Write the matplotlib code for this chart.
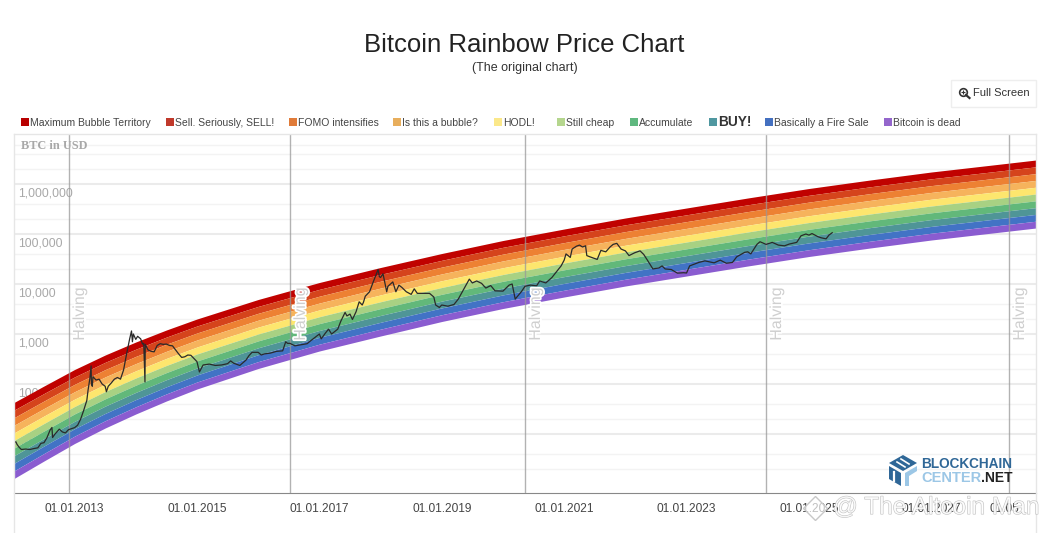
import numpy as np
import matplotlib
matplotlib.use('Agg')
import matplotlib.pyplot as plt
import matplotlib.patheffects as pe
from matplotlib.patches import Rectangle, Polygon
from matplotlib.lines import Line2D

plt.rcParams['font.family'] = ['Liberation Sans', 'DejaVu Sans']

W, H = 1049, 533

# band edges, log10(USD), read at these years
edge_years = [2012.01, 2012.5, 2013, 2013.5, 2014, 2014.5, 2015, 2016, 2017, 2018, 2019, 2020, 2021, 2022, 2023,
              2024, 2025, 2026, 2027, 2028, 2028.71]
edge0 = [1.63, 1.96, 2.29, 2.58, 2.84, 3.08, 3.30, 3.69, 4.03, 4.33, 4.61, 4.87, 5.10, 5.32, 5.52,
         5.72, 5.91, 6.08, 6.24, 6.38, 6.48]
edge1 = [1.478, 1.81, 2.142, 2.434, 2.696, 2.938, 3.16, 3.552, 3.893, 4.193, 4.474, 4.734, 4.964, 5.184, 5.384,
         5.584, 5.774, 5.944, 6.104, 6.244, 6.344]
edge2 = [1.326, 1.66, 1.994, 2.288, 2.552, 2.796, 3.02, 3.414, 3.756, 4.056, 4.338, 4.598, 4.828, 5.048, 5.248,
         5.448, 5.638, 5.808, 5.968, 6.108, 6.208]
edge3 = [1.174, 1.51, 1.846, 2.142, 2.408, 2.654, 2.88, 3.276, 3.619, 3.919, 4.202, 4.462, 4.692, 4.912, 5.112,
         5.312, 5.502, 5.672, 5.832, 5.972, 6.072]
edge4 = [1.022, 1.36, 1.698, 1.996, 2.264, 2.512, 2.74, 3.138, 3.482, 3.782, 4.066, 4.326, 4.556, 4.776, 4.976,
         5.176, 5.366, 5.536, 5.696, 5.836, 5.936]
edge5 = [0.87, 1.21, 1.55, 1.85, 2.12, 2.37, 2.60, 3.00, 3.345, 3.645, 3.93, 4.19, 4.42, 4.64, 4.84,
         5.04, 5.23, 5.40, 5.56, 5.70, 5.80]
edge6 = [0.718, 1.06, 1.402, 1.704, 1.976, 2.228, 2.46, 2.862, 3.208, 3.508, 3.794, 4.054, 4.284, 4.504, 4.704,
         4.904, 5.094, 5.264, 5.424, 5.564, 5.664]
edge7 = [0.566, 0.91, 1.254, 1.558, 1.832, 2.086, 2.32, 2.724, 3.071, 3.371, 3.658, 3.918, 4.148, 4.368, 4.568,
         4.768, 4.958, 5.128, 5.288, 5.428, 5.528]
edge8 = [0.414, 0.76, 1.106, 1.412, 1.688, 1.944, 2.18, 2.586, 2.934, 3.234, 3.522, 3.782, 4.012, 4.232, 4.432,
         4.632, 4.822, 4.992, 5.152, 5.292, 5.392]
edge9 = [0.262, 0.61, 0.958, 1.266, 1.544, 1.802, 2.04, 2.448, 2.797, 3.097, 3.386, 3.646, 3.876, 4.096, 4.296,
         4.496, 4.686, 4.856, 5.016, 5.156, 5.256]
edge10 = [0.11, 0.46, 0.81, 1.12, 1.40, 1.66, 1.90, 2.31, 2.66, 2.96, 3.25, 3.51, 3.74, 3.96, 4.16,
          4.36, 4.55, 4.72, 4.88, 5.02, 5.12]
edges = [edge0, edge1, edge2, edge3, edge4, edge5, edge6, edge7, edge8, edge9, edge10]

band_names = ['Maximum Bubble Territory', 'Sell. Seriously, SELL!', 'FOMO intensifies', 'Is this a bubble?',
              'HODL!', 'Still cheap', 'Accumulate', 'BUY!', 'Basically a Fire Sale', 'Bitcoin is dead']
band_colors = ['#c00200', '#d5441c', '#ed8133', '#f6b35c', '#fde66e',
               '#a8d183', '#62b87a', '#4f9597', '#4273c5', '#8a5cd0']
legend_colors = ['#b80000', '#c0392b', '#e07b39', '#e8ae5c', '#fbe88a',
                 '#b5d68e', '#5fb87f', '#4f97a0', '#4470c0', '#9466cc']
legend_x = [21, 166, 289, 393, 494, 557, 630, 709, 765, 884]

price_years = [2012.00, 2012.02, 2012.04, 2012.06, 2012.09, 2012.13, 2012.2, 2012.27, 2012.33, 2012.4, 2012.45, 2012.5,
               2012.55, 2012.6, 2012.63, 2012.64, 2012.68, 2012.75, 2012.8, 2012.85, 2012.9, 2013.0, 2013.05, 2013.1,
               2013.15, 2013.2, 2013.22, 2013.25, 2013.27, 2013.275, 2013.29, 2013.3, 2013.35, 2013.4, 2013.45, 2013.5,
               2013.52, 2013.55, 2013.6, 2013.65, 2013.7, 2013.75, 2013.8, 2013.85, 2013.9, 2013.93, 2013.945, 2013.96,
               2014.0, 2014.03, 2014.08, 2014.11, 2014.13, 2014.15, 2014.155, 2014.2, 2014.25, 2014.3, 2014.35, 2014.4,
               2014.45, 2014.5, 2014.55, 2014.6, 2014.65, 2014.7, 2014.75, 2014.8, 2014.85, 2014.9, 2015.0, 2015.04,
               2015.1, 2015.2, 2015.3, 2015.4, 2015.5, 2015.55, 2015.6, 2015.7, 2015.8, 2015.85, 2015.9, 2016.0,
               2016.05, 2016.1, 2016.2, 2016.3, 2016.4, 2016.45, 2016.48, 2016.52, 2016.6, 2016.7, 2016.8, 2016.85,
               2016.95, 2017.0, 2017.03, 2017.1, 2017.15, 2017.2, 2017.3, 2017.35, 2017.42, 2017.45, 2017.5, 2017.54,
               2017.6, 2017.65, 2017.7, 2017.72, 2017.75, 2017.82, 2017.88, 2017.96, 2017.98, 2018.0, 2018.04, 2018.1,
               2018.12, 2018.2, 2018.25, 2018.3, 2018.35, 2018.42, 2018.5, 2018.55, 2018.6, 2018.7, 2018.8, 2018.87,
               2018.9, 2018.96, 2019.0, 2019.1, 2019.2, 2019.27, 2019.35, 2019.45, 2019.5, 2019.57, 2019.65, 2019.72,
               2019.8, 2019.87, 2020.0, 2020.1, 2020.15, 2020.2, 2020.3, 2020.36, 2020.45, 2020.55, 2020.6, 2020.7,
               2020.8, 2020.88, 2020.95, 2021.0, 2021.03, 2021.1, 2021.13, 2021.2, 2021.25, 2021.3, 2021.35, 2021.37,
               2021.42, 2021.48, 2021.54, 2021.6, 2021.68, 2021.75, 2021.8, 2021.86, 2021.93, 2022.0, 2022.06, 2022.15,
               2022.24, 2022.3, 2022.36, 2022.45, 2022.55, 2022.6, 2022.65, 2022.75, 2022.85, 2022.95, 2023.0, 2023.05,
               2023.2, 2023.3, 2023.45, 2023.55, 2023.65, 2023.75, 2023.82, 2023.95, 2024.0, 2024.05, 2024.15, 2024.2,
               2024.3, 2024.4, 2024.5, 2024.6, 2024.68, 2024.8, 2024.87, 2024.95, 2025.0, 2025.05, 2025.15, 2025.2,
               2025.28, 2025.33, 2025.38]
price_usd = [7, 6.8, 7, 6.2, 5.5, 4.9, 5, 4.9, 5.1, 5.3, 6.5, 6.7,
             8.5, 12, 13.5, 8.5, 10, 12.5, 11, 10.5, 12.2, 13.4, 15, 20,
             30, 47, 75, 130, 230, 100, 90, 140, 120, 125, 100, 90,
             70, 90, 105, 125, 135, 125, 190, 400, 800, 1150, 700, 1000,
             780, 900, 800, 630, 650, 110, 620, 480, 450, 440, 590, 640,
             620, 630, 590, 580, 480, 400, 340, 350, 380, 375, 280, 174,
             240, 250, 235, 240, 255, 290, 260, 235, 300, 370, 430, 430,
             380, 400, 415, 450, 460, 700, 650, 650, 580, 610, 640, 720,
             900, 1000, 800, 1050, 1250, 1000, 1250, 1800, 2700, 2300, 2500, 1950,
             2800, 4400, 3800, 4300, 5700, 7000, 11000, 19500, 14000, 13500, 16000, 7000,
             9000, 11000, 7000, 9500, 8500, 7000, 6200, 8000, 6500, 6500, 6500, 5500,
             3800, 3400, 3800, 3600, 3900, 5000, 7500, 12500, 10500, 11500, 10300, 8300,
             9300, 7300, 7200, 9500, 10000, 5000, 7000, 9000, 9500, 9200, 11500, 10500,
             13500, 18000, 23000, 30000, 40000, 34000, 50000, 57000, 60000, 55000, 58000, 37000,
             35000, 33000, 31000, 47000, 44000, 55000, 62000, 65000, 50000, 46000, 37000, 42000,
             46000, 39000, 30000, 20000, 21000, 23000, 20000, 19500, 16500, 16800, 16600, 23000,
             27000, 29000, 26500, 30000, 26000, 27000, 35000, 43000, 44000, 40000, 62000, 70000,
             62000, 68000, 60000, 58000, 63000, 68000, 92000, 100000, 95000, 102000, 88000, 84000,
             80000, 96000, 106000]

halving_years = [2012.91, 2016.52, 2020.36, 2024.3, 2028.27]
tick_years = [2013, 2015, 2017, 2019, 2021, 2023, 2025, 2027, 2028.2]
tick_labels = ['01.01.2013', '01.01.2015', '01.01.2017', '01.01.2019', '01.01.2021', '01.01.2023',
               '01.01.2025', '01.01.2027', '01.05']
y_ticks = [10, 100, 1000, 10000, 100000, 1000000]
y_labels = ['10', '100', '1,000', '10,000', '100,000', '1,000,000']
minor_grid = [2, 4, 20, 40, 200, 400, 2000, 4000, 20000, 40000, 200000, 400000, 2000000, 4000000, 6000000]


def px(x, y):
    # reference pixels to figure fractions
    return x / W, 1 - y / H


fig = plt.figure(figsize=(W / 100, H / 100), dpi=100, facecolor='white')
ax = fig.add_axes([14 / W, (H - 493) / H, 1022 / W, 359 / H])
ax.set_yscale('log')
ax.set_xlim(2012.01, 2028.71)
ax.set_ylim(10 ** -0.18, 1e7)
for s in ['left', 'right', 'top']:
    ax.spines[s].set_visible(False)
ax.spines['bottom'].set_color('#888888')

# grid
ax.set_yticks(y_ticks)
ax.set_yticklabels([])
ax.minorticks_off()
ax.tick_params(axis='both', length=0)
for v in y_ticks:
    ax.axhline(v, color='#ebebeb', lw=1.5, zorder=1)
for v in minor_grid:
    ax.axhline(v, color='#f3f3f3', lw=1, zorder=1)

ytrans = ax.get_yaxis_transform()
for v, lab in zip(y_ticks, y_labels):
    ax.annotate(lab, (0, v), xycoords=ytrans, xytext=(3, -7), textcoords='offset points',
                color='#a8a8a8', fontsize=8.8, va='center', ha='left', zorder=2)

# rainbow
years = np.array(edge_years)
for i in range(10):
    ax.fill_between(years, 10 ** np.array(edges[i + 1]), 10 ** np.array(edges[i]),
                    color=band_colors[i], lw=0, zorder=3)

ax.plot(price_years, price_usd, color='#2a2a2a', lw=0.9, zorder=5)

for h in halving_years:
    ax.axvline(h, color='#999999', lw=1, alpha=0.75, zorder=4)
    ax.annotate('Halving', (h, 10 ** 3.4), xycoords='data', xytext=(7.5, 0), textcoords='offset points',
                rotation=90, color='#cfcfcf', fontsize=11.5, ha='center', va='center', zorder=6,
                path_effects=[pe.withStroke(linewidth=2.5, foreground='white')])

ax.set_xticks(tick_years)
ax.set_xticklabels(tick_labels, color='#444444', fontsize=8.6)
ax.tick_params(axis='x', pad=7)

fig.text(*px(21, 146), 'BTC in USD', family='Liberation Serif', weight='bold', color='#a8a8a8',
         fontsize=8.8, va='center')

# frame lines that run on below the axis
for x0, y0, x1, y1 in [(14, 134, 14, 533), (1036, 134, 1036, 533), (14, 134, 1036, 134)]:
    a = px(x0, y0)
    b = px(x1, y1)
    fig.add_artist(Line2D([a[0], b[0]], [a[1], b[1]], color='#e6e6e6', lw=1))

fig.text(*px(524.5, 45), 'Bitcoin Rainbow Price Chart', fontsize=18.5, color='#222222', ha='center', va='center')
fig.text(*px(524.5, 68.5), '(The original chart)', fontsize=9, color='#333333', ha='center', va='center')

# legend row
for x, name, col in zip(legend_x, band_names, legend_colors):
    a = px(x, 126)
    fig.add_artist(Rectangle(a, 8 / W, 8 / H, color=col, lw=0, transform=fig.transFigure))
    if name == 'BUY!':
        fig.text(*px(x + 9.5, 122), name, fontsize=9.8, weight='bold', color='#333333', va='center')
    else:
        fig.text(*px(x + 9, 123.5), name, fontsize=7.5, color='#444444', va='center')

# full screen button
a = px(951, 107)
fig.add_artist(Rectangle(a, 85 / W, 27 / H, fc='white', ec='#eeeeee', lw=1, transform=fig.transFigure))
fig.text(*px(973, 93.5), 'Full Screen', fontsize=8, color='#333333', va='center')
c = px(963, 92)
fig.add_artist(Line2D([c[0]], [c[1]], marker='o', ms=5.5, mfc='none', mec='#333333', mew=1.2))
fig.add_artist(Line2D([c[0]], [c[1]], marker='+', ms=3.5, mec='#333333', mew=0.8))
a, b = px(966, 95), px(969.5, 98)
fig.add_artist(Line2D([a[0], b[0]], [a[1], b[1]], color='#333333', lw=1.6))

# blockchain center logo
cube_dark = [(889, 463), (903, 455), (917, 463), (903, 471)]
cube_left = [(889, 466), (901, 473), (901, 486), (889, 479)]
cube_right = [(905, 473), (917, 466), (917, 471), (909, 476), (909, 486), (905, 486)]
for pts, col in [(cube_dark, '#2f6797'), (cube_left, '#2f6797'), (cube_right, '#9cc7e6')]:
    fig.add_artist(Polygon([px(*p) for p in pts], closed=True, fc=col, ec='none', transform=fig.transFigure))
for pts in [[(897, 462), (905, 467)], [(901, 459), (909, 464)]]:
    a, b = px(*pts[0]), px(*pts[1])
    fig.add_artist(Line2D([a[0], b[0]], [a[1], b[1]], color='white', lw=1.2))
a, b = px(894, 472), px(894, 481)
fig.add_artist(Line2D([a[0], b[0]], [a[1], b[1]], color='white', lw=1.6))
fig.text(*px(921, 464.5), 'BLOCKCHAIN', fontsize=9.8, weight='bold', color='#2f6797', va='center')
fig.text(*px(921, 477.5), 'CENTER', fontsize=10.5, weight='bold', color='#9cc7e6', va='center')
fig.text(*px(981, 477.5), '.NET', fontsize=10, weight='bold', color='#222222', va='center')

# watermark over the tick labels
fig.text(*px(833, 508), '@ The Altcoin Man', fontsize=17.6, color='white', va='center', alpha=0.75,
         path_effects=[pe.withStroke(linewidth=0.7, foreground='#a8a8a8')])
c = px(815, 508)
fig.add_artist(Line2D([c[0]], [c[1]], marker='D', ms=12, mfc='#ffffffaa', mec='#c8c8c8', mew=1))

fig.savefig('out.png', dpi=100, facecolor='white')
